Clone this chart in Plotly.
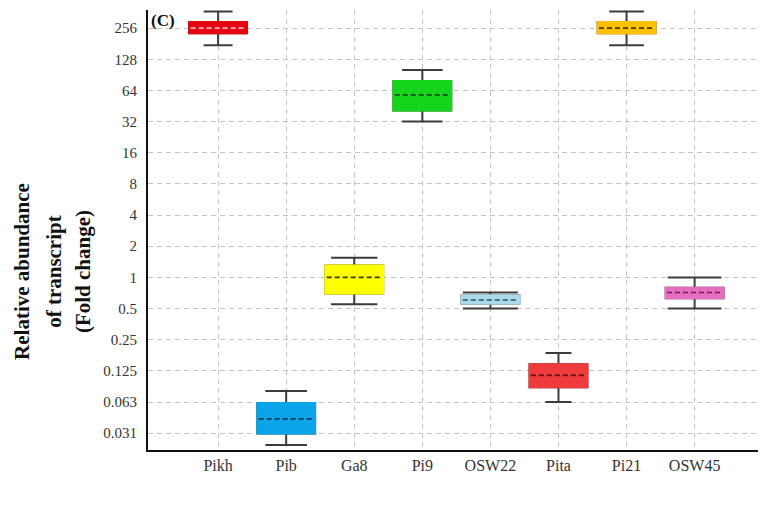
import math
import plotly.graph_objects as go

# ---- data ----
categories = ["Pikh", "Pib", "Ga8", "Pi9", "OSW22", "Pita", "Pi21", "OSW45"]
lower_whisker = [175, 0.024, 0.55, 32, 0.50, 0.0625, 175, 0.50]
q1_values = [228, 0.031, 0.70, 41, 0.555, 0.087, 228, 0.63]
median_values = [256, 0.043, 1.0, 58, 0.605, 0.113, 256, 0.715]
q3_values = [294, 0.061, 1.30, 79, 0.671, 0.145, 294, 0.794]
upper_whisker = [370, 0.080, 1.55, 101, 0.715, 0.186, 370, 1.0]

y_tick_values = [256, 128, 64, 32, 16, 8, 4, 2, 1, 0.5, 0.25, 0.125, 0.0625, 0.03125]
y_tick_labels = ["256", "128", "64", "32", "16", "8", "4", "2", "1", "0.5", "0.25",
                 "0.125", "0.063", "0.031"]
y_title_lines = ["Relative abundance", "of transcript", "(Fold change)"]

# ---- style ----
box_colors = ["#e30613", "#0aa4e8", "#ffff00", "#14d41c", "#add8e6", "#ef3b3b",
              "#ffc000", "#e66ec0"]
median_colors = ["#f7b0b0", "#1a3a5a", "#3a3a10", "#1a4a1a", "#1f5566", "#5a1010",
                 "#4a3a00", "#6a1a5a"]
cap_widths = [0.5, 0.72, 0.8, 0.7, 0.95, 0.45, 0.6, 0.93]
BOX_W = 0.85
FONT = "Liberation Serif"
title_line_x = [-0.205, -0.153, -0.107]   # paper x of each title line

positions = list(range(len(categories)))

fig = go.Figure()

# dark whiskers with caps (below)
for i, p in enumerate(positions):
    fig.add_trace(go.Box(
        x=[p], q1=[q1_values[i]], median=[median_values[i]], q3=[q3_values[i]],
        lowerfence=[lower_whisker[i]], upperfence=[upper_whisker[i]],
        width=BOX_W, whiskerwidth=cap_widths[i],
        line=dict(color="#3c3c3c", width=2), fillcolor="rgba(0,0,0,0)",
        showlegend=False, hoverinfo="skip"))

# coloured boxes (on top)
for i, p in enumerate(positions):
    fig.add_trace(go.Box(
        x=[p], q1=[q1_values[i]], median=[median_values[i]], q3=[q3_values[i]],
        lowerfence=[q1_values[i]], upperfence=[q3_values[i]],
        width=BOX_W, whiskerwidth=0,
        line=dict(color=box_colors[i], width=2), fillcolor=box_colors[i],
        showlegend=False, hoverinfo="skip"))

# dashed median lines
for i, p in enumerate(positions):
    fig.add_trace(go.Scatter(
        x=[p - BOX_W / 2 + 0.02, p + BOX_W / 2 - 0.02],
        y=[median_values[i], median_values[i]],
        mode="lines", line=dict(color=median_colors[i], width=1.6, dash="5px,3px"),
        showlegend=False, hoverinfo="skip"))

annotations = [
    dict(text="<b>%s</b>" % line, xref="paper", yref="paper",
         x=title_line_x[k], y=0.405, xanchor="center", yanchor="middle",
         textangle=-90, showarrow=False,
         font=dict(family=FONT, size=21, color="#111111"))
    for k, line in enumerate(y_title_lines)
]
annotations.append(
    dict(text="<b>(C)</b>", xref="paper", yref="paper", x=0.002, y=0.976,
         xanchor="left", yanchor="middle", showarrow=False,
         font=dict(family=FONT, size=17, color="#111111")))

# the page body has an 8px margin, so the figure is slightly smaller than the window
fig.update_layout(
    width=758, height=505,
    margin=dict(l=140, r=4, t=2, b=63),
    paper_bgcolor="white", plot_bgcolor="white",
    boxmode="overlay",
    font=dict(family=FONT, color="#333333"),
    xaxis=dict(
        range=[-1.03, 7.99], tickvals=positions, ticktext=categories,
        showgrid=True, gridcolor="#c4c4c4", griddash="5px,4px", gridwidth=1,
        showline=True, linecolor="#111111", linewidth=2, zeroline=False,
        ticks="", tickfont=dict(family=FONT, size=16, color="#333333")),
    yaxis=dict(
        type="log", range=[math.log10(0.0215), math.log10(383)],
        tickvals=y_tick_values, ticktext=y_tick_labels,
        showgrid=True, gridcolor="#c4c4c4", griddash="5px,4px", gridwidth=1,
        showline=True, linecolor="#111111", linewidth=2, zeroline=False,
        ticks="outside", ticklen=6, tickcolor="rgba(0,0,0,0)",
        tickfont=dict(family=FONT, size=15, color="#333333")),
    annotations=annotations,
)

fig.write_html("out.html")
